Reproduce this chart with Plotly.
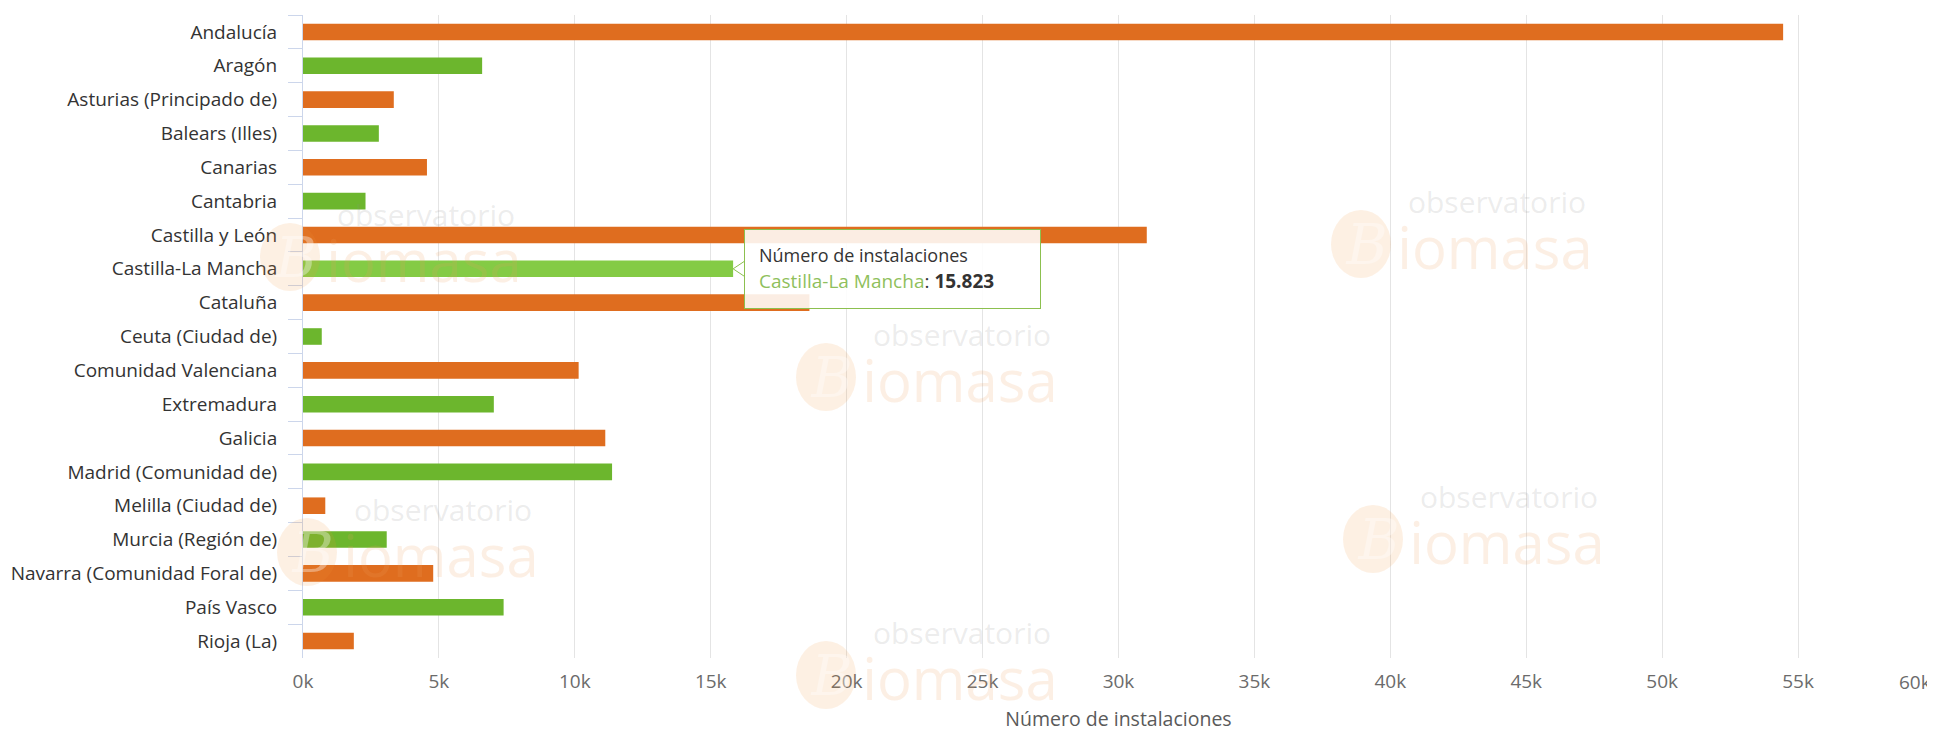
import base64
import plotly.graph_objects as go

# ---------------- data ----------------
regions = [
    "Andalucía", "Aragón", "Asturias (Principado de)", "Balears (Illes)", "Canarias",
    "Cantabria", "Castilla y León", "Castilla-La Mancha", "Cataluña", "Ceuta (Ciudad de)",
    "Comunidad Valenciana", "Extremadura", "Galicia", "Madrid (Comunidad de)",
    "Melilla (Ciudad de)", "Murcia (Región de)", "Navarra (Comunidad Foral de)",
    "País Vasco", "Rioja (La)",
]
installations = [
    54450, 6590, 3340, 2790, 4560,
    2300, 31040, 15823, 18630, 690,
    10140, 7020, 11120, 11370,
    820, 3080, 4790,
    7380, 1870,
]
x_tick_values = [0, 5000, 10000, 15000, 20000, 25000, 30000, 35000, 40000, 45000, 50000, 55000, 60000]
x_tick_labels = ["0k", "5k", "10k", "15k", "20k", "25k", "30k", "35k", "40k", "45k", "50k", "55k", "60k"]
axis_title = "Número de instalaciones"
hovered_region = "Castilla-La Mancha"

# ---------------- styles ----------------
ORANGE = "#df6d1f"
GREEN = "#6cb62d"
GREEN_HOVER = "#84cb45"
FONT = "Open Sans"
TICK_FONT = dict(family=FONT, size=19, color="#6b6b6b")

colors = []
for i, r in enumerate(regions):
    if r == hovered_region:
        colors.append(GREEN_HOVER)
    else:
        colors.append(ORANGE if i % 2 == 0 else GREEN)

# the last tick label is drawn right-aligned at its tick (kept inside the chart, as in the original)
tick_text = x_tick_labels[:-1] + [""]

# page body has an 8px margin: figure coordinates = screen - 8
W, H = 1927, 724
ML, MR, MT, MB = 295, 1, 7, 74
PW, PH = W - ML - MR, H - MT - MB

fig = go.Figure()
fig.add_trace(go.Bar(
    x=installations, y=regions, orientation="h",
    marker=dict(color=colors, line=dict(width=0)),
    hoverinfo="skip", showlegend=False,
))

# ---------------- watermark (background logo image) ----------------
watermark_centers = [(418, 208), (1489, 195), (954, 328), (435, 503), (1501, 490), (954, 626)]
parts = []
for (cx, cy) in watermark_centers:
    parts.append(
        f'<ellipse cx="{cx-136}" cy="{cy+41}" rx="30" ry="34" fill="#f0963c" fill-opacity="0.14"/>'
        f'<text x="{cx-130}" y="{cy+61}" text-anchor="middle" font-family="DejaVu Serif" '
        f'font-style="italic" font-size="56" fill="#ffffff" fill-opacity="0.35">B</text>'
        f'<text x="{cx}" y="{cy+10}" text-anchor="middle" font-family="Open Sans" font-size="30" '
        f'fill="#8c8c8c" fill-opacity="0.17">observatorio</text>'
        f'<text x="{cx-2}" y="{cy+66}" text-anchor="middle" font-family="Open Sans" font-size="58" '
        f'fill="#f0a060" fill-opacity="0.17">iomasa</text>'
    )
svg = (f'<svg xmlns="http://www.w3.org/2000/svg" width="{W}" height="{H}" viewBox="0 0 {W} {H}">'
       + "".join(parts) + "</svg>")
svg_uri = "data:image/svg+xml;base64," + base64.b64encode(svg.encode("utf-8")).decode("ascii")

images = [dict(
    source=svg_uri, xref="paper", yref="paper",
    x=-ML / PW, y=1 + MT / PH, sizex=W / PW, sizey=H / PH,
    xanchor="left", yanchor="top", sizing="stretch", layer="above", opacity=1,
)]

annotations = []
shapes = []

# last x tick label, right-aligned at its tick
annotations.append(dict(
    x=x_tick_values[-1], y=0, xref="x", yref="paper", text=x_tick_labels[-1],
    showarrow=False, xanchor="right", yanchor="middle", yshift=-24, xshift=-1,
    font=TICK_FONT,
))

# ---------------- tooltip ----------------
tip_value = installations[regions.index(hovered_region)]
annotations.append(dict(
    x=tip_value, y=hovered_region, xref="x", yref="y", text=" ",
    showarrow=False, xanchor="left", yanchor="middle", xshift=11,
    width=279, height=62, borderpad=8, borderwidth=1, bordercolor="#8cc04f",
    bgcolor="rgba(255,255,255,0.88)",
))
annotations.append(dict(
    x=tip_value, y=hovered_region, xref="x", yref="y", text="Número de instalaciones",
    showarrow=False, xanchor="left", yanchor="middle", xshift=24, yshift=14,
    font=dict(family=FONT, size=18, color="#333333"),
))
annotations.append(dict(
    x=tip_value, y=hovered_region, xref="x", yref="y",
    text="<span style='color:#8fbf5c'>Castilla-La Mancha</span>: <b>"
         + f"{tip_value:,}".replace(",", ".") + "</b>",
    showarrow=False, xanchor="left", yanchor="middle", xshift=24, yshift=-12,
    font=dict(family=FONT, size=19, color="#333333"),
))
shapes.append(dict(
    type="path", xref="x", yref="y", xsizemode="pixel", ysizemode="pixel",
    xanchor=tip_value, yanchor=hovered_region,
    path="M 12,8 L 0,0 L 12,-8", line=dict(color="#8cc04f", width=1),
    fillcolor="rgba(255,255,255,0.9)", layer="above",
))

fig.update_layout(
    width=W, height=H,
    margin=dict(l=ML, r=MR, t=MT, b=MB, pad=0),
    paper_bgcolor="white", plot_bgcolor="white",
    bargap=0.51,
    font=dict(family=FONT, color="#333333"),
    annotations=annotations, shapes=shapes, images=images,
    hovermode=False,
)
fig.update_xaxes(
    range=[0, 60000], tickvals=x_tick_values, ticktext=tick_text,
    showgrid=True, gridcolor="#e4e4e4", gridwidth=1, zeroline=False, showline=False,
    ticks="outside", ticklen=6, tickcolor="rgba(0,0,0,0)",
    tickfont=TICK_FONT,
    title=dict(text=axis_title, standoff=22, font=dict(family=FONT, size=19.5, color="#5a5a5a")),
    automargin=False, fixedrange=True,
)
fig.update_yaxes(
    autorange="reversed", categoryorder="array", categoryarray=regions,
    showgrid=False, zeroline=False, showline=True, linecolor="#ccd6eb", linewidth=1,
    ticks="outside", tickson="boundaries", ticklen=14, tickcolor="#ccd6eb",
    ticklabelstandoff=21,
    tickfont=dict(family=FONT, size=19, color="#333333"),
    automargin=False, fixedrange=True,
)

fig.write_html("out.html", config={"displayModeBar": False})
